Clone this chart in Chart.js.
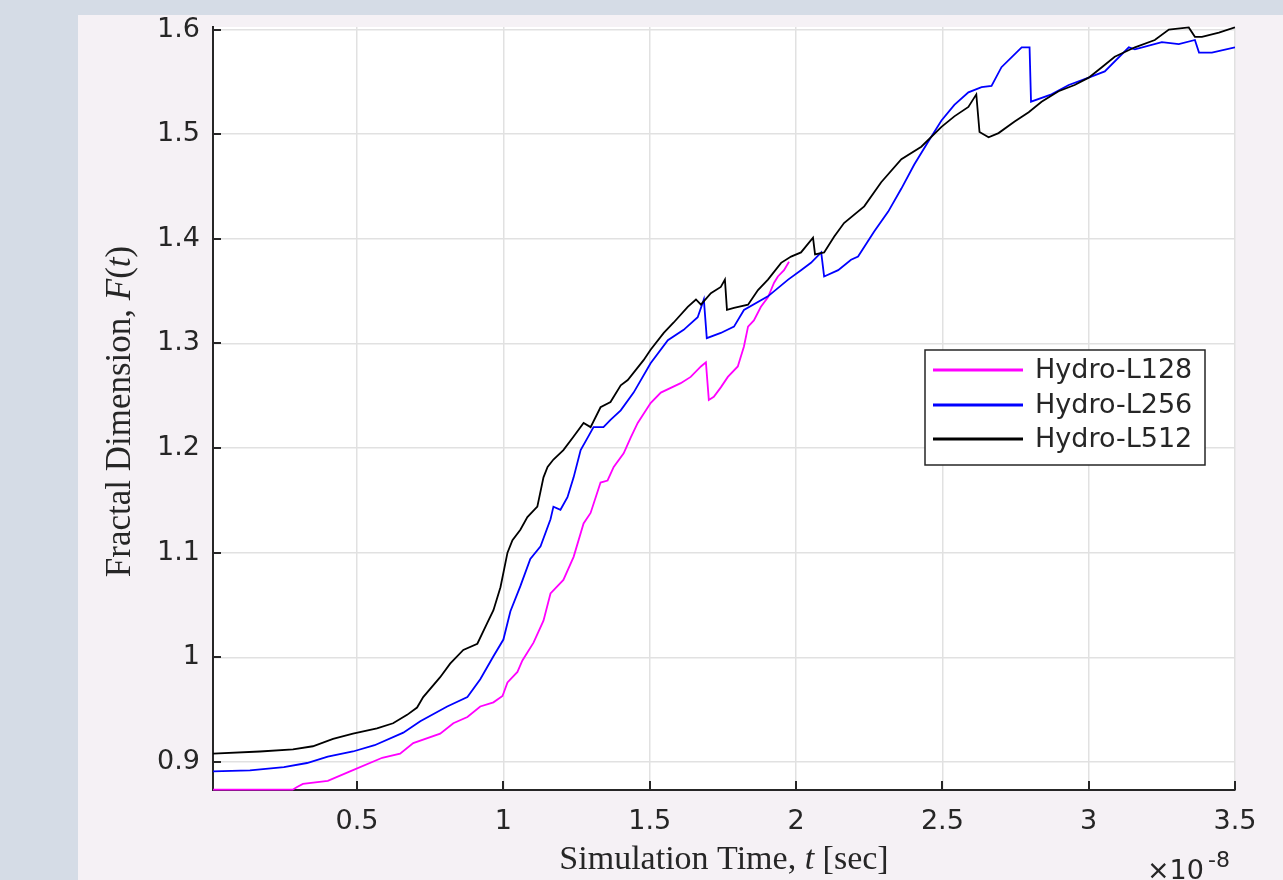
<!DOCTYPE html>
<html>
<head>
<meta charset="utf-8">
<script src="https://cdn.jsdelivr.net/npm/chart.js@4"></script>
<style>
  html, body { margin: 0; padding: 0; }
  body { width: 1283px; height: 880px; background: #d5dce6; overflow: hidden; position: relative; }
  #panel { position: absolute; left: 78px; top: 15px; width: 1205px; height: 865px; background: #f5f1f5; }
  canvas { display: block; }
</style>
</head>
<body>
<div id="panel"><canvas id="fractalChart" width="1205" height="865"></canvas></div>
<script>
// Simulation time in units of 1e-8 sec
const xTicks = [0.5, 1, 1.5, 2, 2.5, 3, 3.5];
const yTicks = [0.9, 1, 1.1, 1.2, 1.3, 1.4, 1.5, 1.6];

const l128Time = [0.008, 0.28, 0.295, 0.315, 0.40, 0.476, 0.586, 0.647, 0.692, 0.784, 0.829, 0.877, 0.921, 0.966, 0.997,
  1.014, 1.048, 1.065, 1.103, 1.137, 1.161, 1.205, 1.240, 1.274, 1.298, 1.332, 1.356, 1.377, 1.411, 1.435, 1.459,
  1.503, 1.538, 1.606, 1.640, 1.675, 1.692, 1.702, 1.719, 1.743, 1.767, 1.801, 1.822, 1.836, 1.856, 1.880, 1.904,
  1.925, 1.938, 1.959, 1.976];
const l128F = [0.8735, 0.8735, 0.876, 0.879, 0.882, 0.891, 0.904, 0.908, 0.918, 0.927, 0.937, 0.943, 0.953, 0.957, 0.963,
  0.976, 0.986, 0.997, 1.014, 1.035, 1.061, 1.074, 1.096, 1.128, 1.138, 1.167, 1.169, 1.182, 1.195, 1.210, 1.224,
  1.243, 1.253, 1.262, 1.268, 1.278, 1.282, 1.246, 1.249, 1.258, 1.268, 1.278, 1.297, 1.316, 1.322, 1.335, 1.344,
  1.358, 1.364, 1.370, 1.378];

const l256Time = [0.008, 0.134, 0.25, 0.329, 0.40, 0.486, 0.56, 0.658, 0.716, 0.808, 0.877, 0.921, 0.966, 1.0, 1.024,
  1.058, 1.092, 1.127, 1.161, 1.171, 1.195, 1.219, 1.240, 1.264, 1.288, 1.308, 1.342, 1.366, 1.401, 1.445, 1.503,
  1.562, 1.616, 1.664, 1.685, 1.695, 1.743, 1.788, 1.822, 1.904, 1.973, 2.017, 2.051, 2.086, 2.096, 2.144, 2.188,
  2.212, 2.267, 2.315, 2.360, 2.404, 2.452, 2.497, 2.541, 2.589, 2.634, 2.668, 2.702, 2.771, 2.798, 2.803, 2.873,
  2.932, 3.0, 3.055, 3.137, 3.158, 3.25, 3.308, 3.363, 3.377, 3.421, 3.5];
const l256F = [0.891, 0.892, 0.895, 0.899, 0.905, 0.910, 0.916, 0.928, 0.939, 0.953, 0.962, 0.979, 1.001, 1.017, 1.044,
  1.068, 1.094, 1.106, 1.132, 1.144, 1.141, 1.153, 1.172, 1.198, 1.210, 1.220, 1.220, 1.227, 1.236, 1.253, 1.281,
  1.303, 1.313, 1.325, 1.342, 1.305, 1.310, 1.316, 1.332, 1.345, 1.361, 1.370, 1.377, 1.387, 1.364, 1.370, 1.380,
  1.383, 1.407, 1.426, 1.448, 1.471, 1.493, 1.513, 1.528, 1.540, 1.545, 1.546, 1.564, 1.583, 1.583, 1.531, 1.538,
  1.547, 1.554, 1.560, 1.583, 1.581, 1.588, 1.586, 1.590, 1.578, 1.578, 1.583];

const l512Time = [0.008, 0.168, 0.281, 0.349, 0.418, 0.486, 0.568, 0.623, 0.671, 0.705, 0.726, 0.784, 0.818, 0.863, 0.911,
  0.945, 0.966, 0.990, 1.014, 1.031, 1.058, 1.082, 1.116, 1.137, 1.151, 1.171, 1.205, 1.240, 1.274, 1.298, 1.332,
  1.366, 1.401, 1.425, 1.479, 1.503, 1.548, 1.582, 1.630, 1.658, 1.675, 1.709, 1.743, 1.757, 1.764, 1.788, 1.836,
  1.870, 1.904, 1.949, 1.983, 2.017, 2.058, 2.065, 2.096, 2.130, 2.164, 2.233, 2.291, 2.360, 2.428, 2.497, 2.541,
  2.589, 2.616, 2.627, 2.658, 2.692, 2.747, 2.795, 2.839, 2.897, 2.952, 3.0, 3.045, 3.089, 3.158, 3.226, 3.274,
  3.342, 3.363, 3.387, 3.445, 3.5];
const l512F = [0.908, 0.910, 0.912, 0.915, 0.922, 0.927, 0.932, 0.937, 0.945, 0.952, 0.962, 0.981, 0.994, 1.007, 1.013,
  1.033, 1.045, 1.067, 1.100, 1.112, 1.122, 1.134, 1.144, 1.172, 1.182, 1.189, 1.198, 1.211, 1.224, 1.220, 1.239,
  1.244, 1.260, 1.265, 1.284, 1.294, 1.310, 1.320, 1.335, 1.342, 1.337, 1.348, 1.354, 1.361, 1.332, 1.334, 1.337,
  1.351, 1.361, 1.377, 1.383, 1.387, 1.401, 1.385, 1.387, 1.402, 1.415, 1.431, 1.454, 1.476, 1.488, 1.507, 1.517,
  1.526, 1.538, 1.502, 1.497, 1.501, 1.512, 1.521, 1.531, 1.541, 1.547, 1.554, 1.564, 1.574, 1.583, 1.590, 1.600,
  1.602, 1.593, 1.593, 1.597, 1.602];

// axis titles, [text, italic?] pieces (LaTeX-style math t and F)
const xTitle = [['Simulation Time, ', false], ['t', true], [' [sec]', false]];
const yTitle = [['Fractal Dimension, ', false], ['F', true], ['(', false], ['t', true], [')', false]];

function pairs(ts, fs) {
    return ts.map((t, i) => ({ x: t, y: fs[i] }));
}

const axisColor = '#262626';

function drawPieces(ctx, pieces, size, cx, cy) {
    const fontFor = it => (it ? 'italic ' : '') + size + 'px "Liberation Serif"';
    let total = 0;
    pieces.forEach(p => { ctx.font = fontFor(p[1]); total += ctx.measureText(p[0]).width; });
    let x = cx - total / 2;
    pieces.forEach(p => {
        ctx.font = fontFor(p[1]);
        ctx.fillText(p[0], x, cy);
        x += ctx.measureText(p[0]).width;
    });
}

// white plot box, inward tick marks, titles, exponent and boxed legend (matlab look)
const matlabFrame = {
    id: 'matlabFrame',
    beforeDraw(chart) {
        const { ctx, chartArea: a } = chart;
        ctx.save();
        ctx.fillStyle = '#ffffff';
        ctx.fillRect(a.left, a.top, a.right - a.left, a.bottom - a.top);
        ctx.restore();
    },
    afterDraw(chart) {
        const { ctx, chartArea: a, scales } = chart;
        ctx.save();
        ctx.strokeStyle = axisColor;
        ctx.lineWidth = 2;
        ctx.beginPath();
        yTicks.forEach(v => {
            const py = Math.round(scales.y.getPixelForValue(v));
            ctx.moveTo(a.left, py);
            ctx.lineTo(a.left + 8, py);
        });
        xTicks.forEach(v => {
            const px = Math.round(scales.x.getPixelForValue(v));
            ctx.moveTo(px, a.bottom);
            ctx.lineTo(px, a.bottom - 9);
        });
        ctx.stroke();

        // axis titles
        ctx.fillStyle = axisColor;
        ctx.textAlign = 'left';
        ctx.textBaseline = 'middle';
        drawPieces(ctx, xTitle, 34, (a.left + a.right) / 2, 845);
        ctx.save();
        ctx.translate(43, (a.top + a.bottom) / 2 + 3);
        ctx.rotate(-Math.PI / 2);
        drawPieces(ctx, yTitle, 35, 0, 0);
        ctx.restore();

        // x10^-8 exponent label
        ctx.textBaseline = 'alphabetic';
        ctx.font = '27px "DejaVu Sans"';
        ctx.fillText('\u00d710', 1069, 864);
        ctx.font = '22px "DejaVu Sans"';
        ctx.fillText('-8', 1130, 852);

        // legend
        const box = { x: 847, y: 335, w: 280, h: 115 };
        ctx.fillStyle = '#ffffff';
        ctx.fillRect(box.x, box.y, box.w, box.h);
        ctx.strokeStyle = axisColor;
        ctx.lineWidth = 1.5;
        ctx.strokeRect(box.x, box.y, box.w, box.h);
        const rows = [355, 390, 424];
        ctx.font = '27px "DejaVu Sans"';
        ctx.textBaseline = 'middle';
        chart.data.datasets.forEach((ds, i) => {
            ctx.strokeStyle = ds.borderColor;
            ctx.lineWidth = 3;
            ctx.beginPath();
            ctx.moveTo(855, rows[i]);
            ctx.lineTo(945, rows[i]);
            ctx.stroke();
            ctx.fillStyle = axisColor;
            ctx.fillText(ds.label, 957, rows[i] + 1);
        });
        ctx.restore();
    }
};

document.addEventListener('DOMContentLoaded', function() {
    const ctx = document.getElementById('fractalChart').getContext('2d');
    new Chart(ctx, {
        type: 'line',
        data: {
            datasets: [{
                label: 'Hydro-L128',
                data: pairs(l128Time, l128F),
                borderColor: '#ff00ff',
                order: 3
            }, {
                label: 'Hydro-L256',
                data: pairs(l256Time, l256F),
                borderColor: '#0000ff',
                order: 2
            }, {
                label: 'Hydro-L512',
                data: pairs(l512Time, l512F),
                borderColor: '#000000',
                order: 1
            }]
        },
        options: {
            responsive: false,
            animation: false,
            clip: { left: 0, top: 2, right: 0, bottom: 3 },
            layout: { padding: { left: 0, top: 12, right: 48, bottom: 0 } },
            elements: {
                line: { borderWidth: 1.8, tension: 0, fill: false },
                point: { radius: 0, hoverRadius: 0 }
            },
            scales: {
                x: {
                    type: 'linear',
                    min: 0.0077,
                    max: 3.5,
                    afterBuildTicks: s => { s.ticks = xTicks.map(v => ({ value: v })); },
                    afterFit: s => { s.height = 90; s.paddingLeft = 0; s.paddingRight = 0; },
                    grid: { color: '#e1e1e1', lineWidth: 1.5, drawTicks: false },
                    border: { color: axisColor, width: 2 },
                    ticks: {
                        color: axisColor,
                        autoSkip: false,
                        maxRotation: 0,
                        padding: 16,
                        font: { family: 'DejaVu Sans', size: 27 },
                        callback: v => String(v)
                    },
                    title: { display: false }
                },
                y: {
                    min: 0.8732,
                    max: 1.6024,
                    afterBuildTicks: s => { s.ticks = yTicks.map(v => ({ value: v })); },
                    afterFit: s => { s.width = 135; s.paddingTop = 0; s.paddingBottom = 0; },
                    grid: { color: '#e1e1e1', lineWidth: 1.5, drawTicks: false },
                    border: { color: axisColor, width: 2 },
                    ticks: {
                        color: axisColor,
                        padding: 13,
                        font: { family: 'DejaVu Sans', size: 27 },
                        callback: v => String(v)
                    },
                    title: { display: false }
                }
            },
            plugins: {
                legend: { display: false },
                tooltip: { enabled: false }
            }
        },
        plugins: [matlabFrame]
    });
});
</script>
</body>
</html>
